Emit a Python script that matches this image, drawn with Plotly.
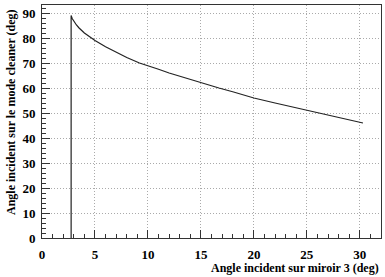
import plotly.graph_objects as go

# Data
x_vals = [2.75, 2.75, 2.85, 3.0, 3.25, 3.5, 4.0, 4.67, 5.0, 6.0, 7.0, 8.0, 9.2, 10.0,
          11.0, 12.0, 13.5, 15.0, 16.7, 18.0, 20.0, 22.0, 25.0, 26.1, 28.0, 30.3]
y_vals = [0.0, 89.0, 87.8, 86.6, 85.2, 84.0, 82.0, 80.0, 79.0, 76.5, 74.2, 72.2, 70.0, 69.0,
          67.5, 66.0, 64.0, 62.0, 60.0, 58.5, 56.0, 54.0, 51.2, 50.0, 48.2, 46.0]

x_title = "Angle incident sur miroir 3 (deg)"
y_title = "Angle incident sur le mode cleaner (deg)"

font_family = "Liberation Serif"

fig = go.Figure()
fig.add_trace(go.Scatter(x=x_vals, y=y_vals, mode="lines",
                         line=dict(color="#222222", width=1.2),
                         showlegend=False, hoverinfo="skip"))

axis_common = dict(
    showline=True, linecolor="#333333", linewidth=1, mirror=True,
    showgrid=True, gridcolor="#aaaaaa", griddash="1px,2px", gridwidth=1,
    ticks="inside", ticklen=8, tickwidth=1, tickcolor="#333333",
    zeroline=False,
    tickfont=dict(family=font_family, size=13, color="black", weight="bold"),
)

fig.update_xaxes(range=[0, 32], dtick=5, tick0=0,
                 minor=dict(dtick=1, ticks="inside", ticklen=4, tickcolor="#333333", showgrid=False),
                 ticklabelstandoff=4, **axis_common)
fig.update_yaxes(range=[0, 93.2], dtick=10, tick0=0,
                 minor=dict(dtick=2, ticks="inside", ticklen=4, tickcolor="#333333", showgrid=False),
                 ticklabelstandoff=3, **axis_common)

fig.add_annotation(text=x_title, xref="paper", yref="paper", x=1, y=0,
                   xanchor="right", yanchor="middle", xshift=0, yshift=-30,
                   showarrow=False,
                   font=dict(family=font_family, size=12, color="black", weight="bold"))
fig.add_annotation(text=y_title, xref="paper", yref="paper", x=0, y=1,
                   xanchor="center", yanchor="top", xshift=-31, yshift=-2,
                   textangle=-90, showarrow=False,
                   font=dict(family=font_family, size=12, color="black", weight="bold"))

fig.update_layout(
    width=385, height=277,
    margin=dict(l=42, r=4, t=5, b=39),
    plot_bgcolor="white", paper_bgcolor="white",
)

fig.write_html("out.html")
